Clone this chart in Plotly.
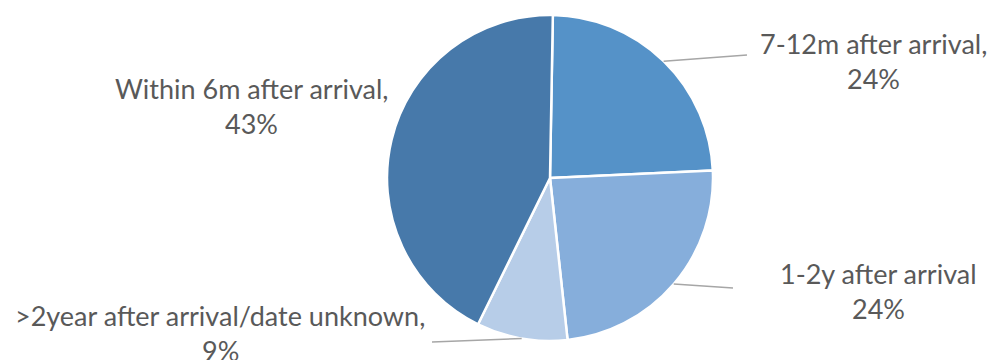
import math
import plotly.graph_objects as go

# Share of cases by time of first contact after arrival
categories = ["7-12m after arrival", "1-2y after arrival",
              ">2year after arrival/date unknown", "Within 6m after arrival"]
label_lines = ["7-12m after arrival,", "1-2y after arrival",
               ">2year after arrival/date unknown,", "Within 6m after arrival,"]
values = [24, 24, 9, 43]
colors = ["#5592C8", "#86AEDB", "#B7CDE8", "#4779AA"]

W, H = 999, 360
cx, cy, r = 550, 178, 163          # pie centre and radius in pixels
start_deg = 1                      # first slice starts just right of 12 o'clock

# label block centres (px) and leader-line end points (px, None = no line)
label_pos = [(873, 61), (878, 291), (220, 333), (252, 106)]
leader_end = [(747, 55), (733, 288), (432, 342), None]
line_gap = 35
font_family = "Lato, 'Open Sans', sans-serif"
text_color = "#595959"

fig = go.Figure(go.Pie(
    labels=categories,
    values=values,
    sort=False,
    direction="clockwise",
    rotation=start_deg,
    marker=dict(colors=colors, line=dict(color="white", width=2.5)),
    textinfo="none",
    hoverinfo="label+percent",
    showlegend=False,
    domain=dict(x=[(cx - r) / W, (cx + r) / W],
                y=[(H - cy - r) / H, (H - cy + r) / H]),
))

px = lambda x: x / W
py = lambda y: 1 - y / H

annotations, shapes = [], []
total = sum(values)
acc = 0.0
for name, val, (lx, ly), end in zip(label_lines, values, label_pos, leader_end):
    pct = round(100 * val / total)
    mid = math.radians(start_deg + 360 * (acc + val / 2) / total)
    acc += val
    for text, dy in ((name, -line_gap / 2), (f"{pct}%", line_gap / 2)):
        annotations.append(dict(
            x=px(lx), y=py(ly + dy), xref="paper", yref="paper",
            text=text, showarrow=False, xanchor="center", yanchor="middle",
            font=dict(family=font_family, size=27, color=text_color)))
    if end is not None:
        sx = cx + r * math.sin(mid)
        sy = cy - r * math.cos(mid)
        shapes.append(dict(type="line", xref="paper", yref="paper",
                           x0=px(sx), y0=py(sy), x1=px(end[0]), y1=py(end[1]),
                           line=dict(color="#A6A6A6", width=1.5)))

fig.update_layout(
    width=W, height=H,
    margin=dict(l=0, r=0, t=0, b=0),
    paper_bgcolor="white",
    plot_bgcolor="white",
    annotations=annotations,
    shapes=shapes,
)

fig.write_html("out.html", include_plotlyjs=True)
